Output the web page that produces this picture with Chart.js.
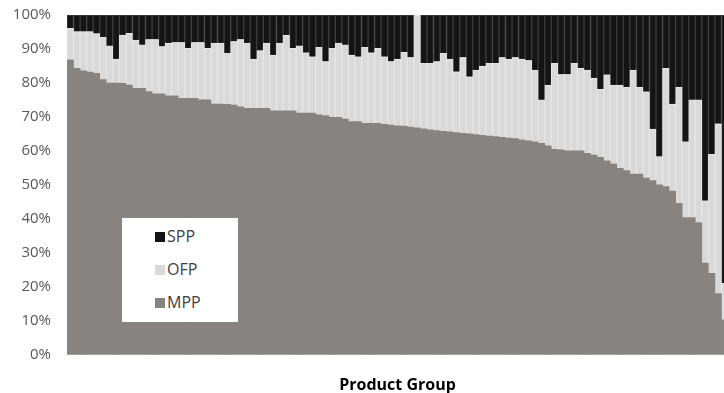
<!DOCTYPE html>
<html>
<head>
<meta charset="utf-8">
<script src="https://cdn.jsdelivr.net/npm/chart.js@4.4.0/dist/chart.umd.min.js"></script>
<style>
  body { margin: 0; background: #fff; overflow: hidden; }
  #wrap { position: relative; width: 724px; height: 393px; overflow: hidden; }
  #legend {
    position: absolute; left: 122px; top: 218px; width: 116px; height: 104px;
    background: #fff; font-family: "Open Sans", sans-serif;
    font-size: 16px; color: #404040;
  }
  .item { position: absolute; left: 33px; height: 20px; line-height: 20px; }
  .box { display: inline-block; width: 10px; height: 10px; margin-right: 2px; vertical-align: 0px; }
</style>
</head>
<body>
<div id="wrap">
  <canvas id="grafico" width="728" height="393"></canvas>
  <div id="legend"></div>
</div>
<script>
// product groups, sorted by MPP share (the last one is cut off at the right edge)
var grupos = [];
for (var g = 1; g <= 101; g++) grupos.push('G' + g);

var mpp = [86.8, 84.3, 83.6, 83.2, 82.8, 81.0, 80.0, 80.0, 79.9, 79.4,
  78.4, 78.4, 77.5, 76.8, 76.8, 76.2, 76.2, 75.5, 75.5, 75.5,
  75.0, 75.0, 73.8, 73.8, 73.7, 73.5, 73.0, 72.5, 72.5, 72.5,
  72.5, 71.8, 71.8, 71.8, 71.8, 71.1, 71.1, 71.1, 70.6, 70.4,
  69.9, 69.9, 69.4, 68.6, 68.6, 68.1, 68.1, 68.1, 67.8, 67.6,
  67.4, 67.3, 67.0, 66.8, 66.5, 66.2, 66.0, 65.8, 65.6, 65.4,
  65.2, 65.0, 64.8, 64.6, 64.4, 64.2, 64.0, 63.8, 63.6, 63.3,
  63.0, 62.7, 62.2, 61.5, 60.5, 60.3, 60.0, 60.0, 60.0, 59.3,
  58.8, 58.1, 57.1, 56.2, 54.9, 54.2, 53.2, 53.2, 52.0, 51.3,
  50.0, 49.5, 48.2, 44.6, 40.4, 40.4, 38.9, 27.0, 24.0, 18.0,
  10.3];

var ofp = [9.3, 10.8, 11.5, 11.9, 11.7, 12.4, 10.9, 7.0, 14.2, 15.2,
  14.2, 12.8, 15.3, 16.0, 13.9, 15.5, 15.7, 16.4, 14.7, 16.4,
  16.9, 15.2, 17.9, 17.9, 15.0, 18.7, 19.8, 19.2, 14.5, 17.0,
  19.2, 16.4, 19.9, 22.2, 18.4, 19.8, 17.8, 16.6, 19.9, 15.9,
  20.3, 21.8, 21.8, 19.6, 19.1, 22.4, 20.8, 22.1, 19.9, 18.7,
  19.6, 21.7, 20.5, 33.2, 19.3, 19.6, 20.3, 22.9, 21.4, 17.9,
  22.3, 16.8, 19.0, 20.4, 21.4, 21.6, 23.5, 23.2, 23.9, 23.7,
  23.6, 21.1, 12.8, 17.9, 25.3, 22.2, 22.5, 25.8, 24.3, 24.5,
  22.6, 20.0, 25.3, 23.2, 24.5, 24.5, 30.6, 25.5, 25.4, 15.1,
  8.3, 34.8, 25.6, 34.1, 22.3, 34.6, 36.1, 18.3, 35.0, 50.0,
  10.7];

var spp = [3.9, 4.9, 4.9, 4.9, 5.5, 6.6, 9.1, 13.0, 5.9, 5.4,
  7.4, 8.8, 7.2, 7.2, 9.3, 8.3, 8.1, 8.1, 9.8, 8.1,
  8.1, 9.8, 8.3, 8.3, 11.3, 7.8, 7.2, 8.3, 13.0, 10.5,
  8.3, 11.8, 8.3, 6.0, 9.8, 9.1, 11.1, 12.3, 9.5, 13.7,
  9.8, 8.3, 8.8, 11.8, 12.3, 9.5, 11.1, 9.8, 12.3, 13.7,
  13.0, 11.0, 12.5, 0, 14.2, 14.2, 13.7, 11.3, 13.0, 16.7,
  12.5, 18.2, 16.2, 15.0, 14.2, 14.2, 12.5, 13.0, 12.5, 13.0,
  13.4, 16.2, 25.0, 20.6, 14.2, 17.5, 17.5, 14.2, 15.7, 16.2,
  18.6, 21.9, 17.6, 20.6, 20.6, 21.3, 16.2, 21.3, 22.6, 33.6,
  41.7, 15.7, 26.2, 21.3, 37.3, 25.0, 25.0, 54.7, 41.0, 32.0,
  79.0];

var yTicks = [0, 10, 20, 30, 40, 50, 60, 70, 80, 90, 100];

var data = {
    labels: grupos,
    datasets: [{
        label: 'MPP',
        data: mpp,
        backgroundColor: '#878381',
        borderWidth: 0
    }, {
        label: 'OFP',
        data: ofp,
        backgroundColor: '#d9d9d9',
        borderColor: '#e6e6e6',
        borderWidth: 1
    }, {
        label: 'SPP',
        data: spp,
        backgroundColor: '#141414',
        borderColor: '#3c3c3c',
        borderWidth: 1
    }]
};

var config = {
    type: 'bar',
    data: data,
    options: {
        responsive: false,
        animation: false,
        layout: { padding: { top: 15, right: 0, left: 0, bottom: -2 } },
        datasets: { bar: { categoryPercentage: 1, barPercentage: 1 } },
        plugins: { legend: { display: false }, tooltip: { enabled: false } },
        scales: {
            x: {
                stacked: true,
                grid: { display: false },
                border: { display: false },
                ticks: { display: false },
                title: {
                    display: true,
                    text: 'Product Group',
                    color: '#000',
                    font: { family: '"Open Sans", sans-serif', size: 16, weight: 'bold' },
                    padding: { top: 13, bottom: 0 }
                }
            },
            y: {
                stacked: true,
                min: 0,
                max: 100,
                afterFit: function (s) {
                    s.width = 67;
                    s.paddingTop = 0;
                    s.paddingBottom = 0;
                },
                afterBuildTicks: function (s) {
                    s.ticks = yTicks.map(function (v) { return { value: v }; });
                },
                grid: { display: false },
                border: { display: false },
                ticks: {
                    padding: 8,
                    color: '#595959',
                    font: { family: '"Open Sans", sans-serif', size: 15 },
                    callback: function (v) { return v + '%'; }
                }
            }
        }
    }
};

var chart = new Chart(document.getElementById('grafico'), config);

// legend box inside the plot, SPP on top
var legend = document.getElementById('legend');
var ordem = [2, 1, 0];
ordem.forEach(function (k, n) {
    var ds = data.datasets[k];
    var div = document.createElement('div');
    div.className = 'item';
    div.style.top = (8 + n * 33) + 'px';
    div.innerHTML = '<span class="box" style="background:' + ds.backgroundColor + '"></span>' + ds.label;
    legend.appendChild(div);
});
</script>
</body>
</html>
